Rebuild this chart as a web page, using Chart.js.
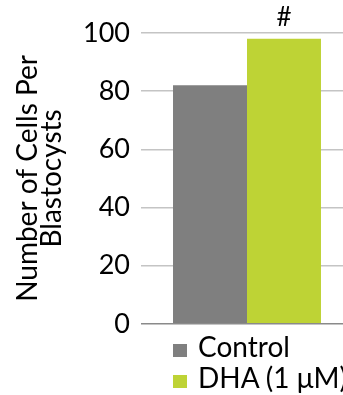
<!DOCTYPE html>
<html>
<head>
<meta charset="utf-8">
<script src="https://cdn.jsdelivr.net/npm/chart.js"></script>
<style>
body { margin: 0; background: #fff; font-family: Lato, sans-serif; }
#wrap { position: relative; width: 343px; height: 395px; overflow: hidden; }
#legend { position: absolute; left: 173px; top: 331px; font-size: 28px; line-height: 31px; color: #000; white-space: nowrap; }
#legend span { display: inline-block; width: 14px; height: 13px; margin-right: 11px; }
</style>
</head>
<body>
<div id="wrap">
    <canvas id="myChart" width="353" height="340"></canvas>
    <div id="legend"></div>
</div>
<script>
let categorias = ['Blastocysts'];
let series = ['Control', 'DHA (1 μM)'];
let control = [82];
let dha = [98];
let marcas = ['', '#'];
let ticksY = [0, 20, 40, 60, 80, 100];
let tituloY = ['Number of Cells Per', 'Blastocysts'];
let colores = ['#7f7f7f', '#bed335'];

// titulo del eje Y en dos lineas, centrado en el area del grafico
const tituloPlugin = {
    id: 'tituloY',
    afterDraw(chart) {
        const c = chart.ctx;
        const area = chart.chartArea;
        const mid = (area.top + area.bottom) / 2;
        c.save();
        c.fillStyle = '#000';
        c.font = '28px Lato';
        c.textAlign = 'center';
        c.textBaseline = 'alphabetic';
        const base = [37, 61];
        tituloY.forEach((t, i) => {
            c.save();
            c.translate(base[i], mid);
            c.rotate(-Math.PI / 2);
            c.fillText(t, 0, 0);
            c.restore();
        });
        c.restore();
    }
};

// marca "#" encima de la barra
const marcaPlugin = {
    id: 'marcas',
    afterDatasetsDraw(chart) {
        const c = chart.ctx;
        c.save();
        c.fillStyle = '#000';
        c.font = '26px Lato';
        c.textAlign = 'center';
        c.textBaseline = 'alphabetic';
        chart.data.datasets.forEach((ds, i) => {
            if (!marcas[i]) return;
            chart.getDatasetMeta(i).data.forEach(bar => {
                c.fillText(marcas[i], bar.x, bar.y - 12.5);
            });
        });
        c.restore();
    }
};

let ctx = document.getElementById('myChart');
let myChart = new Chart(ctx, {
    type: 'bar',
    data: {
        labels: categorias,
        datasets: [{
            label: series[0],
            data: control,
            backgroundColor: colores[0],
            categoryPercentage: 0.698,
            barPercentage: 1
        }, {
            label: series[1],
            data: dha,
            backgroundColor: colores[1],
            categoryPercentage: 0.698,
            barPercentage: 1
        }]
    },
    options: {
        responsive: false,
        animation: false,
        layout: { padding: { left: 83, right: 0, top: 33, bottom: 16 } },
        plugins: {
            legend: { display: false },
            tooltip: { enabled: false }
        },
        scales: {
            x: { display: false },
            y: {
                min: 0,
                max: 100,
                afterBuildTicks: scale => { scale.ticks = ticksY.map(v => ({ value: v })); },
                afterFit: scale => { scale.width = 58; },
                border: { display: false },
                grid: {
                    drawTicks: true,
                    tickLength: 11,
                    tickColor: 'rgba(0,0,0,0)',
                    lineWidth: 1.5,
                    color: c => c.tick && c.tick.value === 0 ? '#8a8a8a' : '#c4c4c4'
                },
                ticks: {
                    padding: 0,
                    color: '#000',
                    font: { family: 'Lato', size: 27 }
                }
            }
        }
    },
    plugins: [tituloPlugin, marcaPlugin]
});

// leyenda en html
let legendDiv = document.getElementById('legend');
myChart.data.datasets.forEach(ds => {
    let d = document.createElement('div');
    let s = document.createElement('span');
    s.style.background = ds.backgroundColor;
    d.appendChild(s);
    d.appendChild(document.createTextNode(ds.label));
    legendDiv.appendChild(d);
});
</script>
</body>
</html>
